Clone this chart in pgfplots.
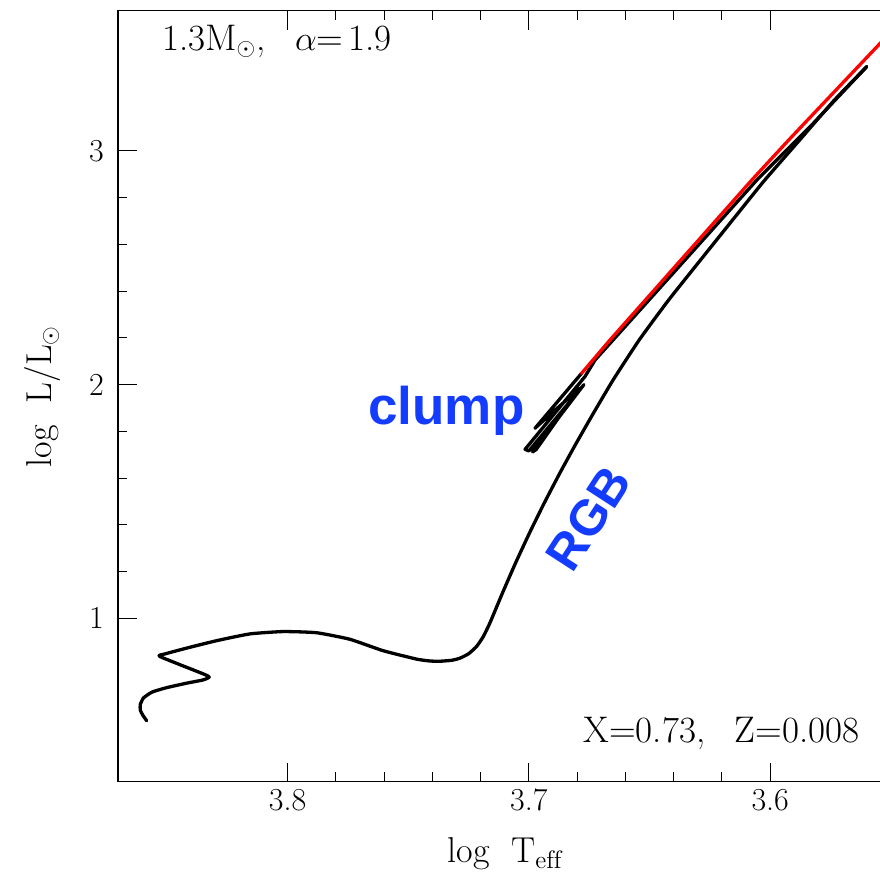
\documentclass[border=0pt]{standalone}
\usepackage{fontspec}
\usepackage{pgfplots}
\pgfplotsset{compat=1.18}
\newfontfamily\lsans{Liberation Sans}
\definecolor{lblue}{RGB}{20,60,255}

\pgfplotstableread{
x y
3.8584 0.561
3.8600 0.585
3.8610 0.605
3.8611 0.630
3.8598 0.658
3.8575 0.676
3.8557 0.686
3.8501 0.703
3.8419 0.722
3.8350 0.736
3.8325 0.748
3.8350 0.762
3.8529 0.836
3.8509 0.847
3.8419 0.872
3.8294 0.904
3.8156 0.933
3.8018 0.943
3.7880 0.938
3.7742 0.910
3.7604 0.861
3.7465 0.825
3.7410 0.817
3.7369 0.816
3.7320 0.820
3.7286 0.829
3.7250 0.848
3.7217 0.879
3.7190 0.920
3.7162 0.979
3.7110 1.107
3.7056 1.235
3.6998 1.364
3.6937 1.492
3.6872 1.621
3.6804 1.749
3.6733 1.877
3.6651 2.020
3.6543 2.191
3.6421 2.362
3.6272 2.555
3.6123 2.747
3.6023 2.875
3.5877 3.048
3.5733 3.219
3.5600 3.361
}\trackA

\pgfplotstableread{
x y
3.5600 3.361
3.5820 3.120
3.6056 2.875
3.6726 2.105
3.6768 2.034
3.7016 1.723
3.7000 1.716
3.6772 2.000
3.6985 1.712
3.6970 1.722
3.6790 1.985
3.6975 1.813
3.6782 2.048
}\trackB

\pgfplotstableread{
x y
3.6782 2.048
3.6664 2.191
3.6077 2.875
3.5917 3.054
3.5545 3.460
3.5450 3.560
}\trackC

\begin{document}
\begin{tikzpicture}
\begin{axis}[
  scale only axis, width=398.5pt, height=385.5pt,
  x dir=reverse, xmin=3.54, xmax=3.8703, ymin=0.3, ymax=3.6,
  xtick={3.6,3.7,3.8}, ytick={1,2,3},
  minor x tick num=4, minor y tick num=4,
  tick align=inside,
  major tick length=9.5pt, minor tick length=4.7pt,
  axis line style={line width=0.7pt},
  major tick style={black, line width=0.5pt},
  minor tick style={black, line width=0.5pt},
  /pgf/number format/assume math mode=true,
  xticklabel style={font=\fontsize{16}{19}\selectfont},
  yticklabel style={font=\fontsize{16}{19}\selectfont, xshift=-3.5pt},
  clip mode=individual,
]
\addplot[black, line width=1.65pt, line join=round, line cap=round, smooth, tension=0.3] table[x=x,y=y] {\trackA};
\addplot[black, line width=1.65pt, line join=round, line cap=round] table[x=x,y=y] {\trackB};
\addplot[red, line width=1.65pt, line join=round, line cap=round] table[x=x,y=y] {\trackC};

\node[anchor=base west, inner sep=0pt, font=\fontsize{18.5}{22}\selectfont] at (axis cs:3.8522,3.429) {1.3M$_\odot$,\hspace{0.8em}$\alpha$=\kern2.5pt1.9};
\node[anchor=base east, inner sep=0pt, font=\fontsize{18.5}{22}\selectfont] at (axis cs:3.5628,0.4663) {X=0.73,\hspace{0.8em}Z=0.008};
\node[anchor=base west, inner sep=0pt, text=lblue, font=\lsans\bfseries\fontsize{26.5}{30}\selectfont] at (axis cs:3.7667,1.830) {clump};
\node[anchor=center, inner sep=0pt, rotate=57, text=lblue, font=\lsans\bfseries\fontsize{25}{30}\selectfont] at (axis cs:3.6754,1.428) {RGB};

\node[anchor=base, inner sep=0pt, font=\fontsize{18}{21}\selectfont] at ([yshift=-40.5pt]axis description cs:0.4856,0) {log\ \ T$_{\rm eff}$};
\node[anchor=base, rotate=90, inner sep=0pt, font=\fontsize{18}{21}\selectfont] at ([xshift=-33pt]axis description cs:0,0.5) {log\ \ L/L$_\odot$};
\end{axis}
\pgfresetboundingbox
\path[use as bounding box] ([xshift=-59pt, yshift=-47pt]current axis.south west) rectangle ([xshift=381pt, yshift=5.4pt]current axis.north west);
\end{tikzpicture}
\end{document}
